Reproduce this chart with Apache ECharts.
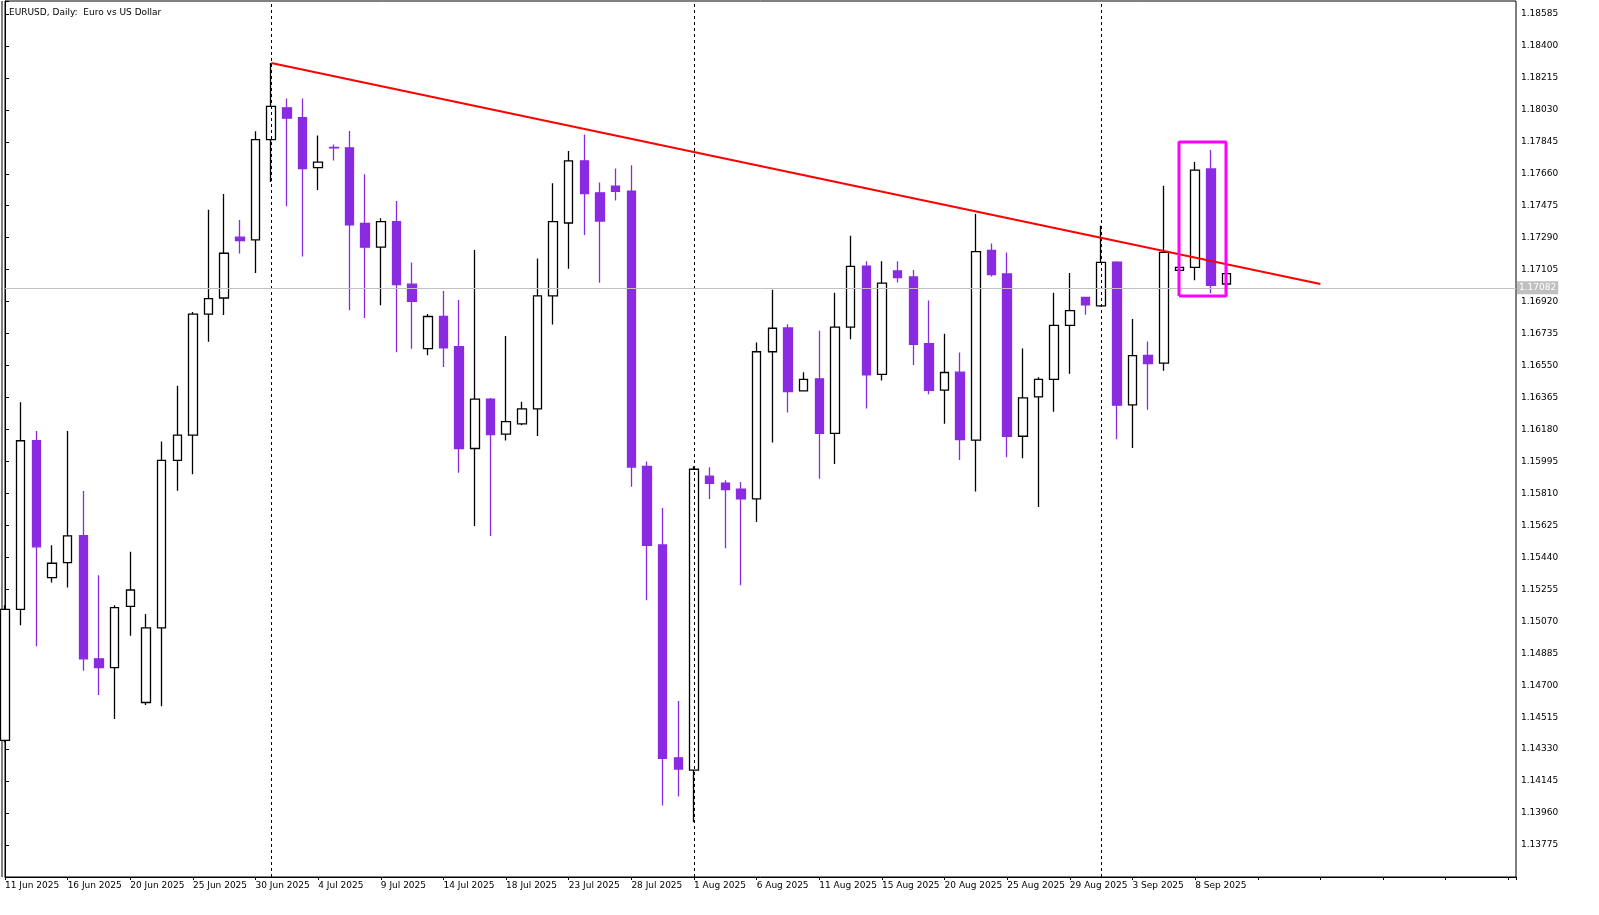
<!DOCTYPE html>
<html><head><meta charset="utf-8">
<script src="https://cdn.jsdelivr.net/npm/echarts@6/dist/echarts.min.js"></script>
<style>html,body{margin:0;padding:0;background:#fff}#c{width:1599px;height:915px}</style>
</head><body><div id="c"></div>
<script>
const title = 'EURUSD, Daily:  Euro vs US Dollar';
const dateLabels = ['11 Jun 2025','16 Jun 2025','20 Jun 2025','25 Jun 2025','30 Jun 2025','4 Jul 2025','9 Jul 2025','14 Jul 2025','18 Jul 2025','23 Jul 2025','28 Jul 2025','1 Aug 2025','6 Aug 2025','11 Aug 2025','15 Aug 2025','20 Aug 2025','25 Aug 2025','29 Aug 2025','3 Sep 2025','8 Sep 2025'];
const opens  = [1.14381,1.15139,1.16115,1.15323,1.15409,1.15566,1.14853,1.14802,1.15156,1.14600,1.15032,1.16001,1.16147,1.16848,1.16941,1.17293,1.17278,1.17858,1.18042,1.17985,
1.17696,1.17813,1.17810,1.17373,1.17235,1.17383,1.17021,1.16648,1.16834,1.16659,1.16070,1.16356,1.16153,1.16213,1.16299,1.16953,1.17375,1.17735,1.17550,1.17589,
1.17560,1.15966,1.15512,1.14280,1.14208,1.15910,1.15869,1.15835,1.15778,1.16630,1.16768,1.16403,1.16473,1.16157,1.16772,1.17126,1.16499,1.17098,1.17063,1.16677,
1.16408,1.16512,1.16118,1.17217,1.17080,1.16141,1.16369,1.16470,1.16783,1.16944,1.16895,1.17148,1.16323,1.16609,1.16564,1.17101,1.17118,1.17688,1.17022];
const closes = [1.15139,1.16115,1.15501,1.15406,1.15564,1.14853,1.14802,1.15149,1.15251,1.15032,1.16001,1.16147,1.16848,1.16938,1.17200,1.17273,1.17858,1.18050,1.17982,1.17690,
1.17727,1.17810,1.17365,1.17235,1.17383,1.17018,1.16922,1.16834,1.16653,1.16070,1.16356,1.16151,1.16226,1.16299,1.16953,1.17383,1.17735,1.17545,1.17386,1.17558,
1.15963,1.15510,1.14277,1.14215,1.15950,1.15869,1.15832,1.15778,1.16630,1.16766,1.16400,1.16470,1.16157,1.16772,1.17124,1.16497,1.17027,1.17059,1.16673,1.16406,
1.16510,1.16122,1.17209,1.17077,1.16141,1.16363,1.16470,1.16783,1.16868,1.16901,1.17147,1.16321,1.16607,1.16561,1.17205,1.17118,1.17681,1.17014,1.17082];
const lows   = [1.14370,1.15047,1.14925,1.15295,1.15265,1.14784,1.14644,1.14505,1.14986,1.14585,1.14578,1.15826,1.15921,1.16688,1.16843,1.17198,1.17086,1.17613,1.17472,1.17181,
1.17566,1.17737,1.16870,1.16825,1.16899,1.16627,1.16648,1.16609,1.16542,1.15929,1.15622,1.15564,1.16117,1.16205,1.16143,1.16787,1.17110,1.17305,1.17029,1.17506,
1.15849,1.15192,1.14004,1.14056,1.13907,1.15778,1.15493,1.15279,1.15644,1.16105,1.16279,1.16403,1.15895,1.15981,1.16702,1.16302,1.16463,1.17031,1.16554,1.16384,
1.16213,1.16003,1.15821,1.17065,1.16020,1.16014,1.15731,1.16283,1.16503,1.16844,1.16890,1.16124,1.16073,1.16294,1.16520,1.17091,1.17044,1.16968,1.16952];
const highs  = [1.15163,1.16338,1.16171,1.15510,1.16171,1.15824,1.15336,1.15163,1.15472,1.15112,1.16110,1.16433,1.16860,1.17452,1.17543,1.17392,1.17906,1.18301,1.18096,1.18096,
1.17881,1.17829,1.17907,1.17657,1.17402,1.17503,1.17146,1.16849,1.16982,1.16930,1.17219,1.16362,1.16721,1.16341,1.17169,1.17605,1.17792,1.17888,1.17610,1.17690,
1.17709,1.15995,1.15726,1.14608,1.15968,1.15962,1.15886,1.15876,1.16683,1.16989,1.16789,1.16512,1.16751,1.16972,1.17302,1.17154,1.17154,1.17154,1.17103,1.16927,
1.16734,1.16626,1.17427,1.17257,1.17205,1.16649,1.16483,1.16972,1.17086,1.16944,1.17359,1.17154,1.16819,1.16689,1.17591,1.17132,1.17728,1.17798,1.17120];
const monthStarts = [17, 44, 70];
const currentPrice = 1.17082;
const trendX = [17, 84];
const trendY = [1.18301, 1.17022];
const boxX = [74.97, 77.97];
const boxY = [1.16952, 1.17844];

const candles = opens.map((o,i)=>[i,o,closes[i],lows[i],highs[i]]);
const chart = echarts.init(document.getElementById('c'));
chart.setOption({
  animation:false,
  backgroundColor:'#fff',
  title:{text:title,left:4,top:3,textStyle:{fontSize:9,fontWeight:'normal',color:'#000',fontFamily:'DejaVu Sans'}},
  grid:{left:5,top:1,width:1511,height:876,show:true,borderColor:'#000',borderWidth:1,containLabel:false,outerBoundsMode:'none'},
  graphic:[{type:'line',shape:{x1:2,y1:1,x2:2,y2:877},style:{stroke:'#000',lineWidth:1}}],
  xAxis:{type:'value',min:0,max:96.49,interval:4,
    axisLine:{show:true,lineStyle:{color:'#000'}},axisTick:{show:true,length:3,lineStyle:{color:'#000'}},
    splitLine:{show:false},showMaxLabel:false,
    axisLabel:{fontSize:9,color:'#000',fontFamily:'DejaVu Sans',align:'left',margin:4,
      formatter:v=>{const k=Math.round(v/4);return (Math.abs(v-k*4)<1e-6&&k<dateLabels.length)?dateLabels[k]:'';}}},
  yAxis:{type:'value',position:'right',min:1.1359,max:1.18660,interval:0.00185,scale:true,
    axisLine:{show:true,lineStyle:{color:'#000'}},axisTick:{show:true,length:4,lineStyle:{color:'#000'}},
    splitLine:{show:false},
    axisLabel:{fontSize:9,color:'#000',fontFamily:'DejaVu Sans',margin:5,
      formatter:v=>(v<1.1368||v>1.1860)?'':v.toFixed(5)}},
  series:[
    {type:'candlestick',data:candles,encode:{x:0,y:[1,2,3,4]},barWidth:9,
     itemStyle:{color:'#ffffff',color0:'#8a2be2',borderColor:'#000000',borderColor0:'#8a2be2',borderWidth:1.3},
     markLine:{silent:true,symbol:'none',animation:false,
       data:[
         ...monthStarts.map(m=>({xAxis:m,lineStyle:{type:[3,3],color:'#000',width:1},label:{show:false}})),
         {yAxis:currentPrice,lineStyle:{type:'solid',color:'#c0c0c0',width:1},
          label:{show:true,position:'end',formatter:currentPrice.toFixed(5),color:'#fff',backgroundColor:'#c0c0c0',fontSize:9,fontFamily:'DejaVu Sans',padding:[2,2],distance:1}}
       ]}},
    {type:'line',data:trendX.map((x,i)=>[x,trendY[i]]),symbol:'none',lineStyle:{color:'#ff0000',width:2},z:5},
    {type:'line',data:[[boxX[0],boxY[0]],[boxX[1],boxY[0]],[boxX[1],boxY[1]],[boxX[0],boxY[1]],[boxX[0],boxY[0]]],
     symbol:'none',lineStyle:{color:'#ff00ff',width:3},z:6}
  ]
});
</script></body></html>
